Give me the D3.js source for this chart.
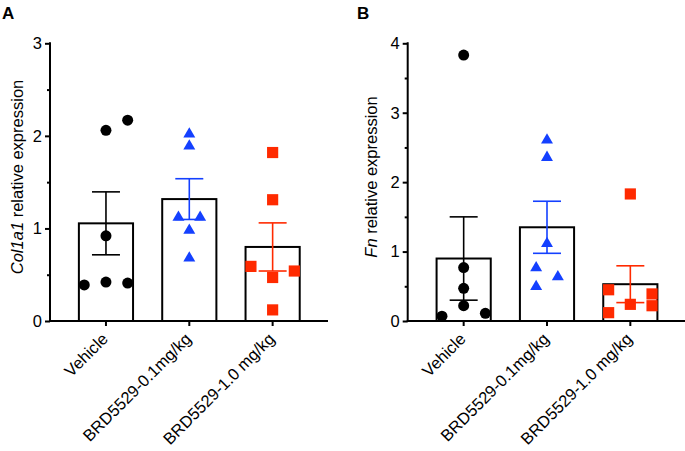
<!DOCTYPE html>
<html>
<head>
<meta charset="utf-8">
<script src="https://cdn.jsdelivr.net/npm/d3@7"></script>
<style>
  body { margin: 0; background: #fff; }
  svg { font-family: "Liberation Sans", Arial, sans-serif; }
</style>
</head>
<body>
<div id="chart"></div>
<script>
const groups = ['Vehicle', 'BRD5529-0.1mg/kg', 'BRD5529-1.0 mg/kg']

// panel A: Col1a1
const col1a1Vehicle = [2.06, 2.17, 0.92, 0.39, 0.42, 0.41]
const col1a1Low = [2.03, 1.90, 1.13, 1.13, 0.99, 0.69]
const col1a1High = [1.82, 1.31, 0.59, 0.47, 0.54, 0.12]
const col1a1Mean = [1.055, 1.317, 0.80]
const col1a1Sem = [0.34, 0.22, 0.26]
const col1a1Ticks = [0, 1, 2, 3]

// panel B: Fn
const fnVehicle = [3.83, 0.77, 0.47, 0.22, 0.07, 0.11]
const fnLow = [2.62, 2.37, 1.13, 0.78, 0.65, 0.51]
const fnHigh = [1.83, 0.45, 0.39, 0.24, 0.22, 0.12]
const fnMean = [0.90, 1.35, 0.53]
const fnSem = [0.60, 0.375, 0.265]
const fnTicks = [0, 1, 2, 3, 4]

// scatter lanes (column slot of each dot, as in the picture)
const col1a1Lanes = [[0, 1, 0, -1, 0, 1], [0, 0, -0.5, 0.5, 0, 0], [0, 0, -1, 0, 1, 0]]
const fnLanes = [[0, 0, 0, 0, -1, 1], [0, 0, 0, -0.5, 0.5, -0.5], [0, -1, 1, 0, 1, -1]]

const colors = ['#000000', '#1440ff', '#ff2a00']
const shapes = [d3.symbolCircle, d3.symbolTriangle, d3.symbolSquare]

const width = 685, height = 451
const svg = d3.select('#chart').append('svg')
    .attr('width', width)
    .attr('height', height)

function panel(opts) {
    const x0 = opts.x0
    const top = 43.3, bottom = 321
    const axisLen = 278
    const g = svg.append('g')

    const y = d3.scaleLinear().domain([0, opts.max]).range([bottom, top])
    const x = d3.scaleBand().domain(groups)
        .range([x0 + 14.3, x0 + 264.3])
        .paddingInner(0.35).paddingOuter(0.175)

    // bars
    g.selectAll('rect.bar').data(opts.mean).join('rect')
        .attr('class', 'bar')
        .attr('x', (d, i) => x(groups[i]))
        .attr('width', x.bandwidth())
        .attr('y', d => y(d))
        .attr('height', d => y(0) - y(d))
        .attr('fill', '#fff')
        .attr('stroke', '#000')
        .attr('stroke-width', 2)

    // dots
    const laneStep = 21.7
    opts.values.forEach((vals, gi) => {
        const cx = x(groups[gi]) + x.bandwidth() / 2
        const sym = d3.symbol().type(shapes[gi]).size(gi === 0 ? 95 : gi === 1 ? 62 : 125)
        g.selectAll('path.dot' + gi).data(vals).join('path')
            .attr('class', 'dot' + gi)
            .attr('d', sym)
            .attr('transform', (d, i) => `translate(${cx + opts.lanes[gi][i] * laneStep},${y(d) + (gi === 1 ? 1 : 0)})`)
            .attr('fill', colors[gi])
    })

    // error bars (mean +/- sem)
    opts.mean.forEach((m, gi) => {
        const cx = x(groups[gi]) + x.bandwidth() / 2
        const lo = y(m - opts.sem[gi]), hi = y(m + opts.sem[gi])
        const eg = g.append('g').attr('stroke', colors[gi]).attr('stroke-width', 1.6)
        eg.append('line').attr('x1', cx).attr('x2', cx).attr('y1', lo).attr('y2', hi)
        eg.append('line').attr('x1', cx - 14).attr('x2', cx + 14).attr('y1', hi).attr('y2', hi)
        eg.append('line').attr('x1', cx - 14).attr('x2', cx + 14).attr('y1', lo).attr('y2', lo)
    })

    // y axis
    const minor = d3.range(0.5, opts.max, 1)
    g.append('g').attr('transform', `translate(${x0},0)`)
        .call(d3.axisLeft(y).tickValues(minor).tickSize(3).tickFormat(''))
        .call(a => a.select('.domain').remove())
        .call(a => a.selectAll('line').attr('stroke-width', 2))
    g.append('g').attr('transform', `translate(${x0},0)`)
        .call(d3.axisLeft(y).tickValues(opts.ticks).tickSize(5).tickPadding(3).tickFormat(d3.format('d')))
        .call(a => a.select('.domain').remove())
        .call(a => a.selectAll('line').attr('stroke-width', 2))
        .call(a => a.selectAll('text').attr('font-size', 16.5).attr('fill', '#000')
            .attr('font-family', '"Liberation Sans", Arial, sans-serif'))
    g.append('line')
        .attr('x1', x0).attr('x2', x0).attr('y1', top - 1).attr('y2', bottom + 1)
        .attr('stroke', '#000').attr('stroke-width', 2)

    // x axis
    g.append('g').attr('transform', `translate(0,${bottom})`)
        .call(d3.axisBottom(x).tickSize(5).tickFormat(''))
        .call(a => a.select('.domain').remove())
        .call(a => a.selectAll('line').attr('stroke-width', 2))
    g.append('line')
        .attr('x1', x0 - 1).attr('x2', x0 + axisLen).attr('y1', bottom).attr('y2', bottom)
        .attr('stroke', '#000').attr('stroke-width', 2)

    g.selectAll('text.xlab').data(groups).join('text')
        .attr('class', 'xlab')
        .attr('transform', d => `translate(${x(d) + x.bandwidth() / 2 + 3},${bottom + 19}) rotate(-45)`)
        .attr('text-anchor', 'end')
        .attr('font-size', 16.5)
        .text(d => d)

    // y label
    const yl = g.append('text')
        .attr('transform', `translate(${x0 - opts.labelOff},177) rotate(-90)`)
        .attr('text-anchor', 'middle')
        .attr('dy', '0.35em')
        .attr('font-size', 16.5)
    yl.append('tspan').attr('font-style', 'italic').text(opts.gene)
    yl.append('tspan').text(' relative expression')

    // panel letter
    svg.append('text')
        .attr('x', opts.letterX).attr('y', 19)
        .attr('font-size', 17).attr('font-weight', 'bold')
        .text(opts.letter)
}

panel({
    x0: 50, max: 3, ticks: col1a1Ticks, letter: 'A', letterX: 2, gene: 'Col1a1', labelOff: 33,
    values: [col1a1Vehicle, col1a1Low, col1a1High], lanes: col1a1Lanes,
    mean: col1a1Mean, sem: col1a1Sem
})
panel({
    x0: 407.7, max: 4, ticks: fnTicks, letter: 'B', letterX: 357, gene: 'Fn', labelOff: 36,
    values: [fnVehicle, fnLow, fnHigh], lanes: fnLanes,
    mean: fnMean, sem: fnSem
})
</script>
</body>
</html>
